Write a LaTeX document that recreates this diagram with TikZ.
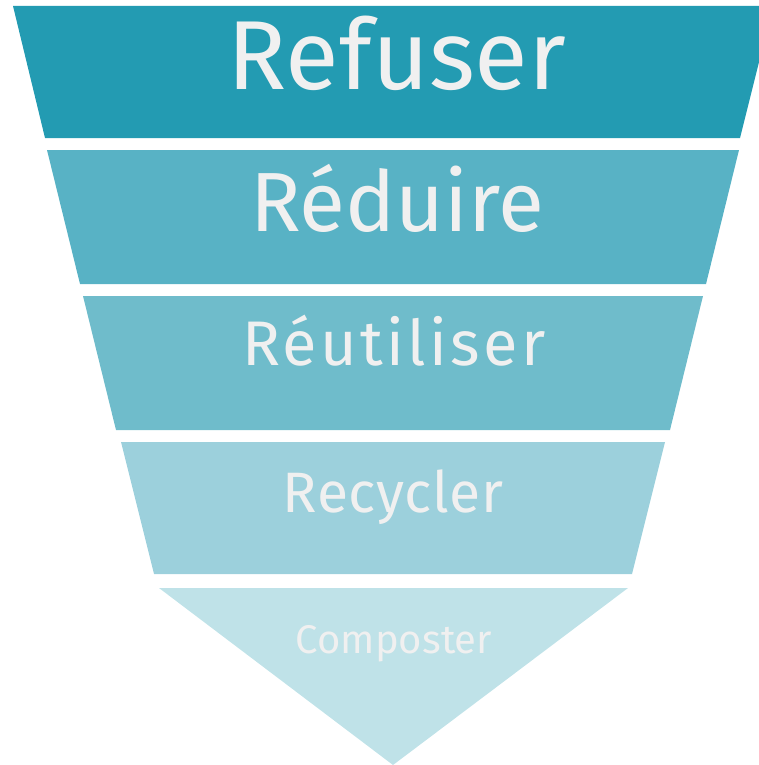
\documentclass[tikz,border=0pt]{standalone}
\usepackage{fontspec}
\setmainfont{Fira Sans}
\definecolor{bandA}{HTML}{239BB2}
\definecolor{bandB}{HTML}{58B2C5}
\definecolor{bandC}{HTML}{6FBCCB}
\definecolor{bandD}{HTML}{9CD0DC}
\definecolor{bandE}{HTML}{BFE2E8}
\definecolor{labeltext}{HTML}{F0F0F0}
\tikzset{
  band/.style={draw=none},
  lbl/.style={anchor=base, inner sep=0pt, text=labeltext}
}
\begin{document}
\begin{tikzpicture}[x=1pt,y=-1pt]
\useasboundingbox (0,0) rectangle (758,765);
\fill[band,bandA] (13,6) -- (773,6) -- (740,138) -- (45,138) -- cycle;
\fill[band,bandB] (47,150) -- (739,150) -- (706,284) -- (80,284) -- cycle;
\fill[band,bandC] (83,296) -- (703,296) -- (670,430) -- (116,430) -- cycle;
\fill[band,bandD] (121,442) -- (665,442) -- (632,574) -- (154,574) -- cycle;
\fill[band,bandE] (159,588) -- (628,588) -- (393,765) -- cycle;
\node[lbl, font=\fontsize{98}{98}\selectfont] (refuser) at (397,90) {Refuser};
\node[lbl, font=\fontsize{84}{84}\selectfont] (reduire) at (397,231) {Réduire};
\node[lbl, font=\fontsize{63}{63}\selectfont\addfontfeature{LetterSpace=5.4}] (reutiliser) at (394,365) {Réutiliser};
\node[lbl, font=\fontsize{57}{57}\selectfont\addfontfeature{LetterSpace=1}] (recycler) at (393,512) {Recycler};
\node[lbl, font=\fontsize{40}{40}\selectfont] (composter) at (394,653) {Composter};
\end{tikzpicture}
\end{document}
